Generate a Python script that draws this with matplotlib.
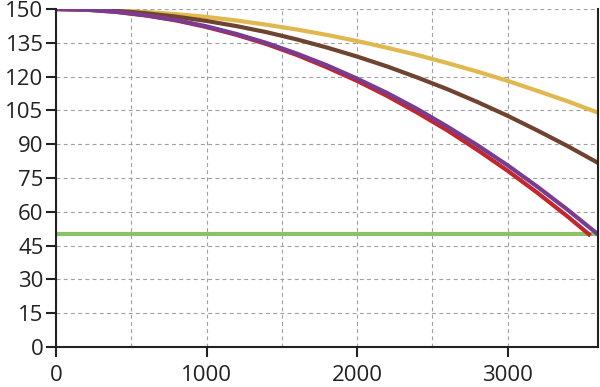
import numpy as np
import matplotlib
matplotlib.use("Agg")
import matplotlib.pyplot as plt
from matplotlib.ticker import MultipleLocator, FixedLocator

plt.rcParams['font.family'] = ['Open Sans', 'DejaVu Sans']

# distance values (x) and heights
x = [0, 200, 400, 600, 800, 1000, 1200, 1400, 1600, 1800, 2000,
     2200, 2400, 2600, 2800, 3000, 3200, 3400, 3600]
yellow = [150, 149.9, 149.4, 148.7, 147.7, 146.5, 144.9, 143.0, 140.9, 138.5,
          135.8, 132.8, 129.6, 126.0, 122.2, 118.1, 113.6, 109.0, 104.0]
brown = [150, 149.8, 149.2, 148.1, 146.6, 144.7, 142.4, 139.7, 136.5, 132.9,
         128.9, 124.5, 119.6, 114.4, 108.7, 102.6, 96.0, 89.1, 81.7]
purple = [150, 149.7, 148.8, 147.2, 145.1, 142.3, 138.9, 134.9, 130.2, 125.0,
          119.1, 112.7, 105.6, 97.8, 89.5, 80.6, 71.0, 60.8, 50.0]
x_red = [0, 200, 400, 600, 800, 1000, 1200, 1400, 1600, 1800, 2000,
         2200, 2400, 2600, 2800, 3000, 3200, 3400, 3540]
red = [150, 149.7, 148.7, 147.1, 144.9, 142.0, 138.5, 134.4, 129.6, 124.1,
       118.1, 111.4, 104.0, 96.1, 87.4, 78.2, 68.3, 57.8, 50.0]
x_green = [0, 3600]
green = [50, 50]

fig = plt.figure(figsize=(6, 3.87), dpi=100)
ax = fig.add_axes([0.0933, 0.1034, 0.9034, 0.8733])

lw = 3.0
ax.plot(x_green, green, color='#8cc266', lw=lw, solid_capstyle='butt')
ax.plot(x, yellow, color='#e0b84e', lw=lw)
ax.plot(x, brown, color='#6e4431', lw=lw)
ax.plot(x_red, red, color='#c1272d', lw=lw)
ax.plot(x, purple, color='#7a3c91', lw=lw)

ax.set_xlim(0, 3600)
ax.set_ylim(0, 150)
ax.xaxis.set_major_locator(MultipleLocator(1000))
ax.xaxis.set_minor_locator(FixedLocator([500, 1500, 2500]))
ax.yaxis.set_major_locator(MultipleLocator(15))

ax.grid(True, which='both', axis='x', color='#a0a0a0', ls=(0, (3.5, 3)), lw=0.8)
ax.grid(True, which='major', axis='y', color='#a0a0a0', ls=(0, (3.5, 3)), lw=0.8)
ax.set_axisbelow(True)

ax.spines['top'].set_visible(False)
for s in ['left', 'bottom', 'right']:
    ax.spines[s].set_linewidth(1.5)
    ax.spines[s].set_color('#222222')

ax.tick_params(which='major', direction='out', length=7, width=1.5,
               color='#222222', labelsize=16, labelcolor='#222222')
ax.tick_params(which='minor', length=0)
ax.tick_params(axis='x', pad=6)
ax.tick_params(axis='y', pad=2)

fig.savefig('out.png', dpi=100)
